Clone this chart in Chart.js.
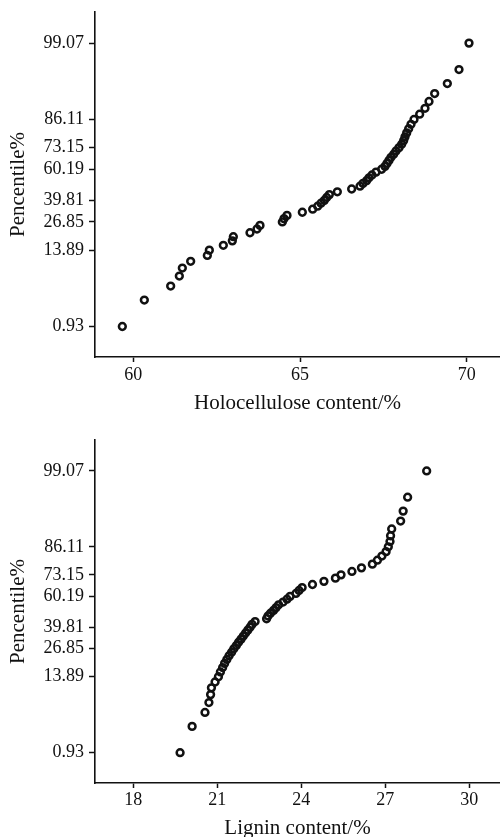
<!DOCTYPE html>
<html>
<head>
<meta charset="utf-8">
<script src="https://cdn.jsdelivr.net/npm/chart.js@4.4.1/dist/chart.umd.min.js"></script>
<style>
body { margin: 0; background: #fff; width: 500px; height: 837px; overflow: hidden; position: relative; }
.box { position: absolute; left: 0; width: 500px; }
</style>
</head>
<body>
<div class="box" style="top:0"><canvas id="holoChart" width="500" height="418"></canvas></div>
<div class="box" style="top:418px"><canvas id="ligninChart" width="500" height="430"></canvas></div>
<script>
// plotting positions (percentile of each ranked sample, n = 54)
const percentiles = [
    0.93, 2.78, 4.63, 6.48, 8.33, 10.19, 12.04, 13.89, 15.74, 17.59,
    19.44, 21.30, 23.15, 25.00, 26.85, 28.70, 30.56, 32.41, 34.26, 36.11,
    37.96, 39.81, 41.67, 43.52, 45.37, 47.22, 49.07, 50.93, 52.78, 54.63,
    56.48, 58.33, 60.19, 62.04, 63.89, 65.74, 67.59, 69.44, 71.30, 73.15,
    75.00, 76.85, 78.70, 80.56, 82.41, 84.26, 86.11, 87.96, 89.81, 91.67,
    93.52, 95.37, 97.22, 99.07
];

// sorted holocellulose content, %
const holocellulose = [
    59.67, 60.33, 61.12, 61.38, 61.47, 61.72, 62.22, 62.28, 62.70, 62.97,
    63.00, 63.50, 63.71, 63.80, 64.47, 64.52, 64.61, 65.07, 65.38, 65.53,
    65.63, 65.73, 65.80, 65.88, 66.12, 66.55, 66.80, 66.89, 67.00, 67.07,
    67.16, 67.28, 67.45, 67.55, 67.61, 67.67, 67.73, 67.81, 67.88, 67.97,
    68.05, 68.11, 68.15, 68.20, 68.26, 68.33, 68.42, 68.59, 68.75, 68.87,
    69.04, 69.42, 69.77, 70.07
];

// sorted lignin content, %
const lignin = [
    19.67, 20.10, 20.56, 20.70, 20.76, 20.79, 20.92, 21.04, 21.11, 21.19,
    21.26, 21.34, 21.42, 21.51, 21.59, 21.68, 21.76, 21.85, 21.93, 22.01,
    22.09, 22.17, 22.24, 22.35, 22.76, 22.81, 22.90, 23.01, 23.10, 23.19,
    23.35, 23.49, 23.60, 23.81, 23.92, 24.03, 24.40, 24.81, 25.22, 25.42,
    25.81, 26.15, 26.54, 26.72, 26.88, 27.03, 27.11, 27.17, 27.19, 27.23,
    27.55, 27.64, 27.80, 28.48
];

const yTickPercent = [0.93, 13.89, 26.85, 39.81, 60.19, 73.15, 86.11, 99.07];
const holoTicks = [60, 65, 70];
const ligninTicks = [18, 21, 24, 27, 30];

// inverse normal CDF (Acklam), used as the probability-paper scale
function probit(p) {
    const a = [-39.69683028665376, 220.9460984245205, -275.9285104469687, 138.3577518672690, -30.66479806614716, 2.506628277459239];
    const b = [-54.47609879822406, 161.5858368580409, -155.6989798598866, 66.80131188771972, -13.28068155288572];
    const c = [-0.007784894002430293, -0.3223964580411365, -2.400758277161838, -2.549732539343734, 4.374664141464968, 2.938163982698783];
    const d = [0.007784695709041462, 0.3224671290700398, 2.445134137142996, 3.754408661907416];
    const pl = 0.02425;
    let q, r;
    if (p < pl) {
        q = Math.sqrt(-2 * Math.log(p));
        return (((((c[0]*q+c[1])*q+c[2])*q+c[3])*q+c[4])*q+c[5]) / ((((d[0]*q+d[1])*q+d[2])*q+d[3])*q+1);
    }
    if (p > 1 - pl) {
        q = Math.sqrt(-2 * Math.log(1 - p));
        return -(((((c[0]*q+c[1])*q+c[2])*q+c[3])*q+c[4])*q+c[5]) / ((((d[0]*q+d[1])*q+d[2])*q+d[3])*q+1);
    }
    q = p - 0.5;
    r = q * q;
    return (((((a[0]*r+a[1])*r+a[2])*r+a[3])*r+a[4])*r+a[5])*q / (((((b[0]*r+b[1])*r+b[2])*r+b[3])*r+b[4])*r+1);
}

const FONT = "'Liberation Serif', 'Times New Roman', serif";

function noPad(s) {
    s.paddingLeft = 0; s.paddingRight = 0; s.paddingTop = 0; s.paddingBottom = 0;
}

function makeChart(id, xs, xTicks, xMin, xMax, xTitle, cfg) {
    const ctx = document.getElementById(id).getContext("2d");
    return new Chart(ctx, {
        type: "scatter",
        data: {
            datasets: [{
                data: xs.map((x, i) => ({ x: x, y: probit(percentiles[i] / 100) })),
                borderColor: "#111",
                backgroundColor: "rgba(0,0,0,0)",
                borderWidth: 2.5,
                pointRadius: 3.4,
                pointHoverRadius: 3.4
            }]
        },
        options: {
            responsive: false,
            animation: false,
            layout: { autoPadding: false, padding: { top: cfg.top, left: 0, right: 0, bottom: 0 } },
            plugins: { legend: { display: false }, tooltip: { enabled: false } },
            scales: {
                x: {
                    type: "linear",
                    min: xMin,
                    max: xMax,
                    afterBuildTicks: s => { s.ticks = xTicks.map(v => ({ value: v })); },
                    afterFit: s => { s.height = cfg.xHeight; noPad(s); },
                    grid: { drawOnChartArea: false, drawTicks: true, tickLength: 5, tickWidth: 1.5, tickColor: "#111" },
                    border: { display: true, color: "#111", width: 1.6 },
                    ticks: { color: "#111", padding: cfg.tickPad, font: { family: FONT, size: 18 } },
                    title: { display: true, text: xTitle, color: "#111", padding: { top: 0, bottom: cfg.titlePad }, font: { family: FONT, size: 21 } }
                },
                y: {
                    type: "linear",
                    min: -2.86,
                    max: 2.87,
                    afterBuildTicks: s => { s.ticks = yTickPercent.map(p => ({ value: probit(p / 100) })); },
                    afterFit: s => { s.width = 95; noPad(s); },
                    grid: { drawOnChartArea: false, drawTicks: true, tickLength: 6, tickWidth: 1.5, tickColor: "#111" },
                    border: { display: true, color: "#111", width: 1.6 },
                    ticks: {
                        color: "#111",
                        padding: 5,
                        font: { family: FONT, size: 18 },
                        callback: (v, i) => yTickPercent[i].toFixed(2)
                    },
                    title: { display: true, text: "Pencentile%", color: "#111", padding: { top: 6, bottom: 0 }, font: { family: FONT, size: 21 } }
                }
            }
        }
    });
}

const holoChart = makeChart("holoChart", holocellulose, holoTicks, 58.85, 71.0,
    "Holocellulose content/%", { top: 12, xHeight: 61, tickPad: 2, titlePad: 2 });
const ligninChart = makeChart("ligninChart", lignin, ligninTicks, 16.63, 31.1,
    "Lignin content/%", { top: 22, xHeight: 65, tickPad: 1, titlePad: 7 });
</script>
</body>
</html>
